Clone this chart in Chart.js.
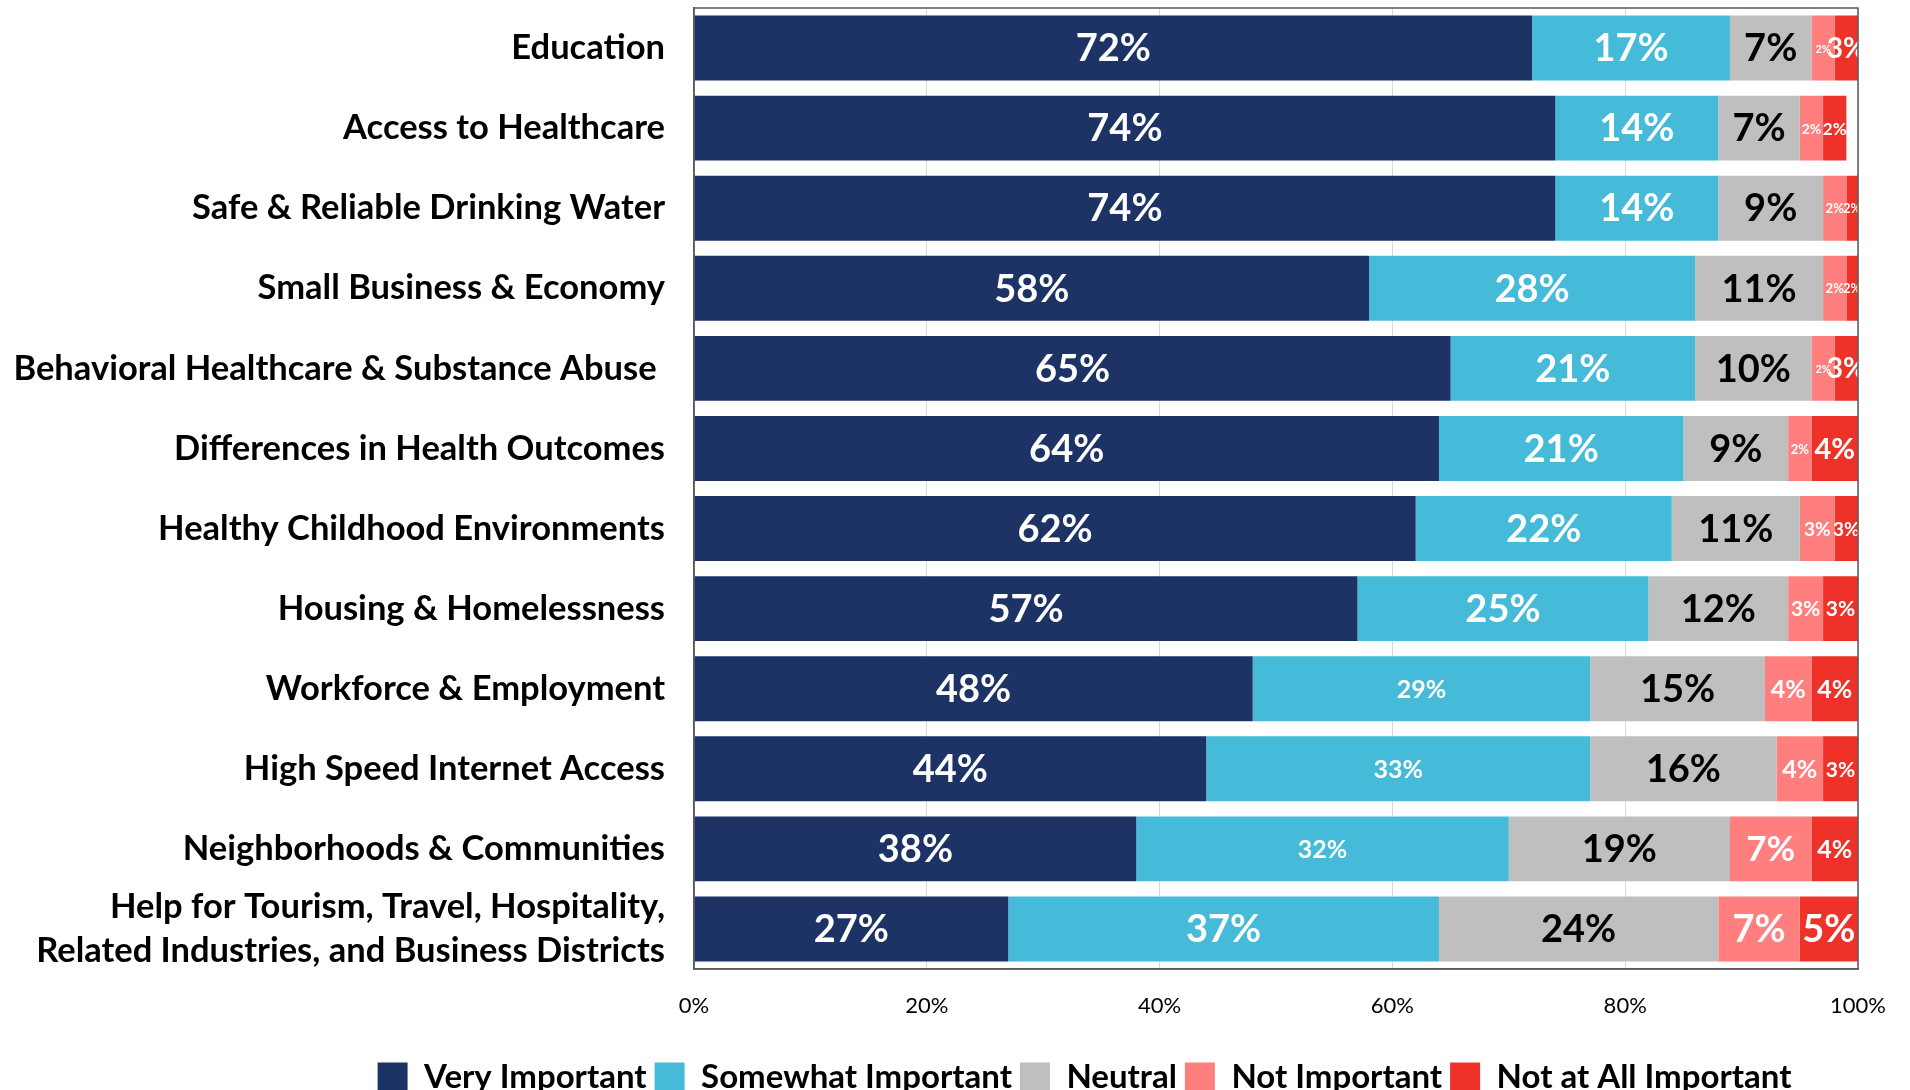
<!DOCTYPE html>
<html>
<head>
<meta charset="utf-8">
<script src="https://cdn.jsdelivr.net/npm/chart.js@4.4.1/dist/chart.umd.min.js"></script>
<style>
  html, body { margin: 0; padding: 0; background: #fff; }
  #c { display: block; }
</style>
</head>
<body>
<canvas id="c" width="1910" height="1090"></canvas>
<script>
// Survey categories, top to bottom
const categories = [
  'Education',
  'Access to Healthcare',
  'Safe & Reliable Drinking Water',
  'Small Business & Economy',
  'Behavioral Healthcare & Substance Abuse ',
  'Differences in Health Outcomes',
  'Healthy Childhood Environments',
  'Housing & Homelessness',
  'Workforce & Employment',
  'High Speed Internet Access',
  'Neighborhoods & Communities',
  ['Help for Tourism, Travel, Hospitality,', 'Related Industries, and Business Districts']
];

const seriesNames = ['Very Important', 'Somewhat Important', 'Neutral', 'Not Important', 'Not at All Important'];

// Share of responses (%) per category
const veryImportant     = [72, 74, 74, 58, 65, 64, 62, 57, 48, 44, 38, 27];
const somewhatImportant = [17, 14, 14, 28, 21, 21, 22, 25, 29, 33, 32, 37];
const neutral           = [7, 7, 9, 11, 10, 9, 11, 12, 15, 16, 19, 24];
const notImportant      = [2, 2, 2, 2, 2, 2, 3, 3, 4, 4, 7, 7];
const notAtAllImportant = [3, 2, 2, 2, 3, 4, 3, 3, 4, 3, 4, 5];

const xTicks = [0, 20, 40, 60, 80, 100];

// Styling
const seriesColors = ['#1d3366', '#45bbd9', '#bfbfbf', '#ff7f7f', '#ee3129'];
const labelColors  = ['#ffffff', '#ffffff', '#000000', '#ffffff', '#ffffff'];
const FONT = 'Lato, "Open Sans", sans-serif';
const BIG = 38;
// In-bar label sizes (px), per series and category
const labelSizes = [
  Array(12).fill(BIG),
  [BIG, BIG, BIG, BIG, BIG, BIG, BIG, BIG, 25, 25, 25, BIG],
  Array(12).fill(BIG),
  [11, 14, 13, 13, 11, 13, 19, 21, 25, 25, 35, BIG],
  [28, 17, 13, 13, 28, 29, 19, 21, 25, 21, 25, BIG]
];

const seriesValues = [veryImportant, somewhatImportant, neutral, notImportant, notAtAllImportant];

const datasets = seriesNames.map((name, i) => ({
  label: name,
  data: seriesValues[i],
  backgroundColor: seriesColors[i],
  borderWidth: 0,
  categoryPercentage: 1.0,
  barPercentage: 0.81,
  clip: 0
}));

// Percent labels centred in each segment
const segmentLabels = {
  id: 'segmentLabels',
  afterDatasetsDraw(chart) {
    const ctx = chart.ctx;
    const area = chart.chartArea;
    chart.data.datasets.forEach((ds, di) => {
      const meta = chart.getDatasetMeta(di);
      meta.data.forEach((bar, i) => {
        const v = ds.data[i];
        const right = Math.min(bar.x, area.right);
        const left = Math.max(bar.base, area.left);
        ctx.save();
        ctx.font = 'bold ' + labelSizes[di][i] + 'px ' + FONT;
        ctx.fillStyle = labelColors[di];
        ctx.textAlign = 'center';
        ctx.textBaseline = 'middle';
        ctx.fillText(v + '%', (left + right) / 2, bar.y + 1);
        ctx.restore();
      });
    });
  }
};

// Frame around the plot area
const plotFrame = {
  id: 'plotFrame',
  afterDatasetsDraw(chart) {
    const { ctx, chartArea: a } = chart;
    ctx.save();
    ctx.strokeStyle = '#595959';
    ctx.lineWidth = 1.5;
    ctx.strokeRect(a.left, a.top, a.right - a.left, a.bottom - a.top);
    ctx.restore();
  }
};

// Legend row spans from LEGEND_LEFT to the plot's right edge
const LEGEND_LEFT = 311;
const legendSpan = {
  id: 'legendSpan',
  afterLayout(chart) {
    const lg = chart.legend;
    if (!lg) return;
    lg.left = LEGEND_LEFT;
    lg.width = lg.right - lg.left;
  }
};

Chart.defaults.font.family = FONT;

new Chart(document.getElementById('c'), {
  type: 'bar',
  data: { labels: categories, datasets },
  options: {
    indexAxis: 'y',
    responsive: false,
    animation: false,
    layout: { padding: { top: 8, right: 52, left: 0, bottom: -14 } },
    scales: {
      x: {
        stacked: true,
        min: 0,
        max: 100,
        afterBuildTicks(scale) { scale.ticks = xTicks.map(v => ({ value: v })); },
        ticks: {
          callback: v => v + '%',
          font: { size: 22 },
          color: '#000',
          padding: 24
        },
        grid: { color: '#d9d9d9', drawTicks: false },
        border: { color: '#595959', width: 1.5 },
        afterFit(scale) { scale.height = 84; }
      },
      y: {
        stacked: true,
        grid: { display: false },
        border: { color: '#595959', width: 1.5 },
        ticks: {
          autoSkip: false,
          font: { size: 34.5, weight: 'bold', lineHeight: 1.27 },
          color: '#000',
          padding: 21
        },
        afterFit(scale) {
          scale.width = 694;
          scale.paddingTop = 0;
          scale.paddingBottom = 0;
        }
      }
    },
    plugins: {
      legend: {
        position: 'bottom',
        labels: {
          font: { size: 33, weight: 'bold' },
          color: '#000',
          boxWidth: 30,
          boxHeight: 30,
          padding: 8
        }
      },
      tooltip: { enabled: false }
    }
  },
  plugins: [segmentLabels, plotFrame, legendSpan]
});
</script>
</body>
</html>
